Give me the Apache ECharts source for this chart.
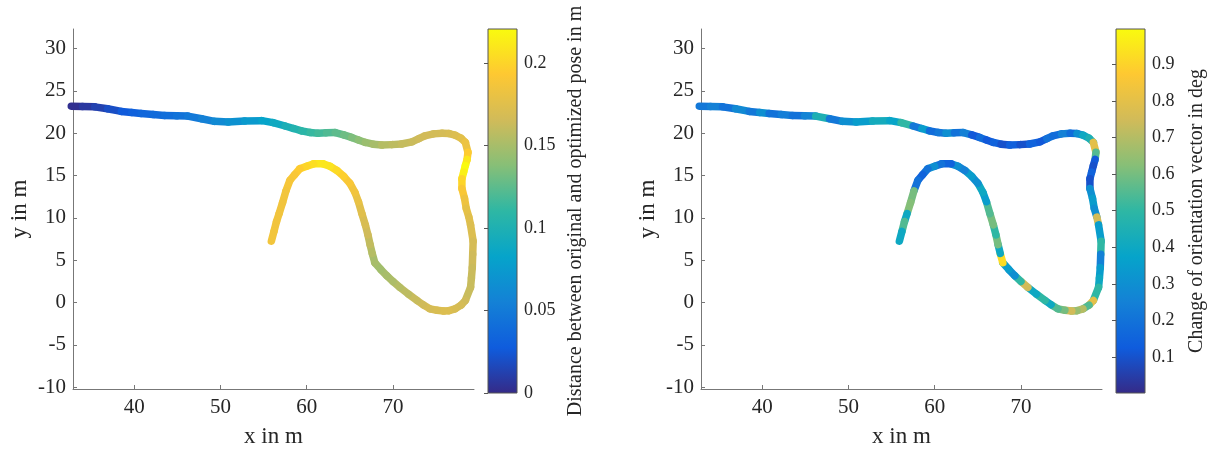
<!DOCTYPE html>
<html>
<head>
<meta charset="utf-8">
<title>Pose graph optimization</title>
<script src="https://cdn.jsdelivr.net/npm/echarts@6/dist/echarts.min.js"></script>
<style>
  html, body { margin: 0; padding: 0; background: #fff; }
  #main { width: 1208px; height: 453px; }
</style>
</head>
<body>
<div id="main"></div>
<script>
// trajectory (x, y in m), from the start on the left to the end of the hook
const pathX = [32.7, 34.0, 35.4, 36.9, 38.5, 39.7, 40.8, 42.2, 43.5, 44.9, 46.2, 47.8, 49.3, 50.9, 52.8, 54.8,
  56.1, 57.5, 58.5, 59.4, 60.4, 61.3, 62.3, 63.3, 64.3, 65.2, 66.0, 66.8, 67.7, 68.7, 69.9, 71.0,
  72.2, 73.0, 73.7, 74.7, 75.7, 76.5, 77.2, 77.9, 78.4, 78.7, 78.6, 78.4, 78.2, 78.0, 78.0, 78.3,
  78.5, 78.8, 79.0, 79.3, 79.25, 79.2, 79.1, 79.0, 78.4, 77.9, 77.2, 76.5, 75.9, 75.1, 74.3, 73.5,
  72.8, 71.8, 70.8, 70.0, 69.3, 68.6, 67.9, 67.6, 67.35, 67.1, 66.8, 66.4, 66.0, 65.6, 65.0, 64.3,
  63.5, 62.7, 61.9, 60.8, 60.0, 59.2, 58.6, 58.05, 57.6, 57.2, 56.8, 56.5, 56.2, 55.9];
const pathY = [23.19, 23.15, 23.11, 22.88, 22.57, 22.45, 22.33, 22.2, 22.1, 22.05, 22.02, 21.71, 21.4, 21.32, 21.45, 21.48,
  21.25, 20.85, 20.55, 20.27, 20.08, 20.0, 20.05, 20.08, 19.8, 19.5, 19.2, 18.91, 18.7, 18.6, 18.65, 18.72,
  18.98, 19.35, 19.69, 19.92, 20.0, 19.95, 19.77, 19.4, 18.91, 17.75, 16.9, 16.18, 15.4, 14.63, 13.47, 12.3,
  11.13, 10.1, 9.18, 7.25, 5.7, 4.13, 2.9, 1.8, 0.25, -0.3, -0.74, -0.95, -1.0, -0.9, -0.74, -0.25,
  0.25, 1.0, 1.8, 2.5, 3.16, 3.9, 4.71, 5.8, 6.85, 8.0, 9.18, 10.5, 11.91, 13.0, 14.1, 14.9,
  15.6, 16.1, 16.38, 16.38, 16.1, 15.8, 15.1, 14.43, 13.2, 11.8, 10.5, 9.58, 8.4, 7.25];
// distance between original and optimized pose in m
const distVals = [0.003, 0.008, 0.013, 0.02, 0.027, 0.031, 0.035, 0.038, 0.041, 0.045, 0.049, 0.055, 0.062, 0.068, 0.075, 0.083,
  0.09, 0.097, 0.103, 0.108, 0.113, 0.117, 0.121, 0.125, 0.13, 0.135, 0.14, 0.145, 0.15, 0.155, 0.158, 0.161,
  0.163, 0.165, 0.166, 0.167, 0.168, 0.17, 0.172, 0.176, 0.182, 0.195, 0.21, 0.22, 0.215, 0.2, 0.19, 0.183,
  0.178, 0.175, 0.172, 0.168, 0.165, 0.163, 0.162, 0.162, 0.165, 0.168, 0.17, 0.172, 0.172, 0.17, 0.168, 0.165,
  0.162, 0.158, 0.155, 0.152, 0.15, 0.148, 0.15, 0.155, 0.16, 0.165, 0.17, 0.175, 0.18, 0.185, 0.19, 0.197,
  0.203, 0.208, 0.21, 0.205, 0.2, 0.195, 0.19, 0.188, 0.186, 0.185, 0.185, 0.185, 0.186, 0.187];
// change of orientation vector in deg
const orientVals = [0.22, 0.25, 0.2, 0.28, 0.22, 0.3, 0.2, 0.24, 0.2, 0.26, 0.45, 0.22, 0.3, 0.35, 0.42, 0.38,
  0.5, 0.22, 0.35, 0.18, 0.22, 0.3, 0.2, 0.25, 0.12, 0.18, 0.12, 0.15, 0.1, 0.14, 0.1, 0.15,
  0.12, 0.2, 0.18, 0.25, 0.18, 0.3, 0.4, 0.45, 0.8, 0.55, 0.12, 0.1, 0.15, 0.1, 0.3, 0.35,
  0.3, 0.75, 0.35, 0.5, 0.25, 0.35, 0.4, 0.5, 0.8, 0.55, 0.7, 0.65, 0.75, 0.6, 0.55, 0.4,
  0.5, 0.4, 0.75, 0.5, 0.3, 0.35, 0.92, 0.4, 0.6, 0.5, 0.6, 0.55, 0.35, 0.4, 0.3, 0.35,
  0.25, 0.3, 0.15, 0.2, 0.3, 0.2, 0.15, 0.2, 0.6, 0.62, 0.4, 0.55, 0.4, 0.35];

const xTicks = [40, 50, 60, 70];
const yTicks = [-10, -5, 0, 5, 10, 15, 20, 25, 30];
const distTicks = [0, 0.05, 0.1, 0.15, 0.2];
const orientTicks = [0.1, 0.2, 0.3, 0.4, 0.5, 0.6, 0.7, 0.8, 0.9];
const distRange = [0, 0.2207];
const orientRange = [0.0022, 0.996];

// parula colormap
const parula = ['#352a87', '#0f5cdd', '#1481d6', '#06a4ca', '#2eb7a4', '#87bf77', '#d1bb59', '#fec832', '#f9fb0e'];

const FONT = 'Liberation Serif, Times New Roman, serif';
const TXT = '#262626';

const distData = pathX.map((x, i) => [x, pathY[i], distVals[i]]);
const orientData = pathX.map((x, i) => [x, pathY[i], orientVals[i]]);

const barGradient = {
  type: 'linear', x: 0, y: 1, x2: 0, y2: 0,
  colorStops: parula.map((c, i) => ({ offset: i / (parula.length - 1), color: c }))
};

// one thick segment from point i to point i+1, coloured by point i
function renderSegment(params, api) {
  const i = params.dataIndex;
  const j = Math.min(i + 1, pathX.length - 1);
  const a = api.coord([api.value(0), api.value(1)]);
  const b = api.coord([pathX[j], pathY[j]]);
  return {
    type: 'line',
    shape: { x1: a[0], y1: a[1], x2: b[0], y2: b[1] },
    style: { stroke: api.visual('color'), lineWidth: 7.5, lineCap: 'round' },
    silent: true
  };
}

function plotXAxis(gridIndex) {
  return {
    gridIndex, type: 'value', min: 32.9, max: 79.4,
    name: 'x in m', nameLocation: 'middle', nameGap: 36,
    nameTextStyle: { fontFamily: FONT, fontSize: 23, color: TXT },
    axisLine: { show: true, onZero: false, lineStyle: { color: '#777', width: 1 } },
    axisTick: { show: true, inside: true, length: 4, customValues: xTicks, lineStyle: { color: '#777' } },
    axisLabel: { customValues: xTicks, fontFamily: FONT, fontSize: 21, color: TXT, margin: 8 },
    splitLine: { show: false }
  };
}

function plotYAxis(gridIndex) {
  return {
    gridIndex, type: 'value', min: -10.2, max: 32.3,
    name: 'y in m', nameLocation: 'middle', nameGap: 42,
    nameTextStyle: { fontFamily: FONT, fontSize: 23, color: TXT },
    axisLine: { show: true, onZero: false, lineStyle: { color: '#777', width: 1 } },
    axisTick: { show: true, inside: true, length: 4, customValues: yTicks, lineStyle: { color: '#777' } },
    axisLabel: { customValues: yTicks, fontFamily: FONT, fontSize: 21, color: TXT, margin: 7 },
    splitLine: { show: false }
  };
}

function barYAxis(gridIndex, range, ticks, title, gap) {
  return {
    gridIndex, type: 'value', position: 'right', min: range[0], max: range[1],
    name: title, nameLocation: 'middle', nameGap: gap, nameRotate: 90,
    nameTextStyle: { fontFamily: FONT, fontSize: 20, color: TXT },
    axisLine: { show: false },
    axisTick: { show: true, inside: true, length: 4, customValues: ticks, lineStyle: { color: '#555' } },
    axisLabel: { customValues: ticks, fontFamily: FONT, fontSize: 18, color: TXT, margin: 7,
      formatter: v => String(+v.toFixed(3)) },
    splitLine: { show: false }
  };
}

const option = {
  backgroundColor: '#fff',
  animation: false,
  grid: [
    { left: 73, top: 29, width: 401, height: 364 },
    { left: 488, top: 29, width: 29, height: 364, show: true, borderColor: '#555', borderWidth: 1, backgroundColor: barGradient },
    { left: 701, top: 29, width: 401, height: 364 },
    { left: 1116, top: 29, width: 30, height: 364, show: true, borderColor: '#555', borderWidth: 1, backgroundColor: barGradient }
  ],
  xAxis: [
    plotXAxis(0),
    { gridIndex: 1, type: 'value', min: 0, max: 1, show: false },
    plotXAxis(2),
    { gridIndex: 3, type: 'value', min: 0, max: 1, show: false }
  ],
  yAxis: [
    plotYAxis(0),
    barYAxis(1, distRange, distTicks, 'Distance between original and optimized pose in m', 49),
    plotYAxis(2),
    barYAxis(3, orientRange, orientTicks, 'Change of orientation vector in deg', 42)
  ],
  visualMap: [
    { type: 'continuous', show: false, seriesIndex: 0, dimension: 2, min: distRange[0], max: distRange[1], inRange: { color: parula } },
    { type: 'continuous', show: false, seriesIndex: 1, dimension: 2, min: orientRange[0], max: orientRange[1], inRange: { color: parula } }
  ],
  series: [
    { type: 'custom', xAxisIndex: 0, yAxisIndex: 0, encode: { x: 0, y: 1 }, data: distData, renderItem: renderSegment },
    { type: 'custom', xAxisIndex: 2, yAxisIndex: 2, encode: { x: 0, y: 1 }, data: orientData, renderItem: renderSegment }
  ]
};

const chart = echarts.init(document.getElementById('main'));
chart.setOption(option);
</script>
</body>
</html>
